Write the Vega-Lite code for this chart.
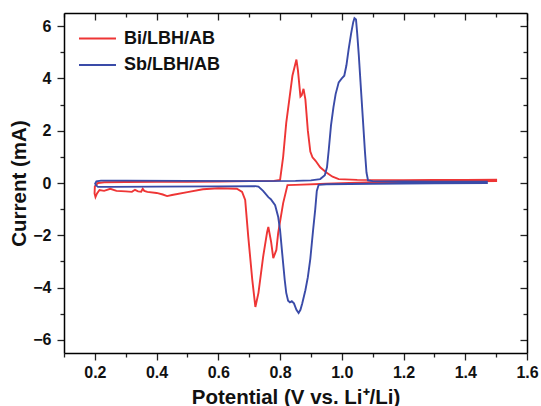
{
  "$schema": "https://vega.github.io/schema/vega-lite/v6.json",
  "width": 463,
  "height": 340,
  "autosize": {"type": "none"},
  "padding": {"left": 64, "top": 13, "right": 14, "bottom": 53},
  "background": "white",
  "config": {
    "view": {"stroke": null},
    "font": "Liberation Sans",
    "axis": {
      "grid": false,
      "domainColor": "#000",
      "domainWidth": 1.5,
      "tickColor": "#222",
      "tickWidth": 1.3,
      "labelFont": "Liberation Sans",
      "labelFontWeight": "bold",
      "labelFontSize": 16,
      "labelColor": "#111",
      "titleFont": "Liberation Sans",
      "titleFontWeight": "bold",
      "titleFontSize": 20.5,
      "titleColor": "#111"
    },
    "legend": {
      "labelFont": "Liberation Sans",
      "labelFontWeight": "bold",
      "labelFontSize": 18,
      "labelColor": "#111"
    }
  },
  "data": {"values": [
    {"s":"Bi/LBH/AB","i":1,"x":0.200,"y":-0.12},
    {"s":"Bi/LBH/AB","i":2,"x":0.210,"y":0.00},
    {"s":"Bi/LBH/AB","i":3,"x":0.230,"y":0.03},
    {"s":"Bi/LBH/AB","i":4,"x":0.300,"y":0.04},
    {"s":"Bi/LBH/AB","i":5,"x":0.400,"y":0.05},
    {"s":"Bi/LBH/AB","i":6,"x":0.500,"y":0.05},
    {"s":"Bi/LBH/AB","i":7,"x":0.600,"y":0.06},
    {"s":"Bi/LBH/AB","i":8,"x":0.700,"y":0.07},
    {"s":"Bi/LBH/AB","i":9,"x":0.780,"y":0.08},
    {"s":"Bi/LBH/AB","i":10,"x":0.800,"y":0.12},
    {"s":"Bi/LBH/AB","i":11,"x":0.810,"y":1.00},
    {"s":"Bi/LBH/AB","i":12,"x":0.820,"y":2.30},
    {"s":"Bi/LBH/AB","i":13,"x":0.830,"y":3.20},
    {"s":"Bi/LBH/AB","i":14,"x":0.840,"y":4.10},
    {"s":"Bi/LBH/AB","i":15,"x":0.853,"y":4.72},
    {"s":"Bi/LBH/AB","i":16,"x":0.858,"y":4.30},
    {"s":"Bi/LBH/AB","i":17,"x":0.866,"y":3.30},
    {"s":"Bi/LBH/AB","i":18,"x":0.870,"y":3.35},
    {"s":"Bi/LBH/AB","i":19,"x":0.876,"y":3.60},
    {"s":"Bi/LBH/AB","i":20,"x":0.882,"y":3.20},
    {"s":"Bi/LBH/AB","i":21,"x":0.890,"y":2.00},
    {"s":"Bi/LBH/AB","i":22,"x":0.898,"y":1.20},
    {"s":"Bi/LBH/AB","i":23,"x":0.905,"y":0.98},
    {"s":"Bi/LBH/AB","i":24,"x":0.915,"y":0.85},
    {"s":"Bi/LBH/AB","i":25,"x":0.930,"y":0.60},
    {"s":"Bi/LBH/AB","i":26,"x":0.950,"y":0.40},
    {"s":"Bi/LBH/AB","i":27,"x":0.970,"y":0.24},
    {"s":"Bi/LBH/AB","i":28,"x":0.990,"y":0.15},
    {"s":"Bi/LBH/AB","i":29,"x":1.050,"y":0.12},
    {"s":"Bi/LBH/AB","i":30,"x":1.200,"y":0.11},
    {"s":"Bi/LBH/AB","i":31,"x":1.300,"y":0.12},
    {"s":"Bi/LBH/AB","i":32,"x":1.400,"y":0.12},
    {"s":"Bi/LBH/AB","i":33,"x":1.500,"y":0.13},
    {"s":"Bi/LBH/AB","i":34,"x":1.500,"y":0.07},
    {"s":"Bi/LBH/AB","i":35,"x":1.300,"y":0.06},
    {"s":"Bi/LBH/AB","i":36,"x":1.100,"y":0.03},
    {"s":"Bi/LBH/AB","i":37,"x":0.950,"y":-0.03},
    {"s":"Bi/LBH/AB","i":38,"x":0.850,"y":-0.07},
    {"s":"Bi/LBH/AB","i":39,"x":0.824,"y":-0.08},
    {"s":"Bi/LBH/AB","i":40,"x":0.810,"y":-0.77},
    {"s":"Bi/LBH/AB","i":41,"x":0.794,"y":-1.90},
    {"s":"Bi/LBH/AB","i":42,"x":0.788,"y":-2.56},
    {"s":"Bi/LBH/AB","i":43,"x":0.778,"y":-2.87},
    {"s":"Bi/LBH/AB","i":44,"x":0.771,"y":-2.25},
    {"s":"Bi/LBH/AB","i":45,"x":0.762,"y":-1.68},
    {"s":"Bi/LBH/AB","i":46,"x":0.758,"y":-1.88},
    {"s":"Bi/LBH/AB","i":47,"x":0.745,"y":-2.83},
    {"s":"Bi/LBH/AB","i":48,"x":0.730,"y":-4.20},
    {"s":"Bi/LBH/AB","i":49,"x":0.720,"y":-4.74},
    {"s":"Bi/LBH/AB","i":50,"x":0.710,"y":-3.70},
    {"s":"Bi/LBH/AB","i":51,"x":0.697,"y":-2.06},
    {"s":"Bi/LBH/AB","i":52,"x":0.687,"y":-0.65},
    {"s":"Bi/LBH/AB","i":53,"x":0.677,"y":-0.34},
    {"s":"Bi/LBH/AB","i":54,"x":0.660,"y":-0.22},
    {"s":"Bi/LBH/AB","i":55,"x":0.600,"y":-0.20},
    {"s":"Bi/LBH/AB","i":56,"x":0.550,"y":-0.24},
    {"s":"Bi/LBH/AB","i":57,"x":0.500,"y":-0.35},
    {"s":"Bi/LBH/AB","i":58,"x":0.450,"y":-0.46},
    {"s":"Bi/LBH/AB","i":59,"x":0.434,"y":-0.50},
    {"s":"Bi/LBH/AB","i":60,"x":0.420,"y":-0.44},
    {"s":"Bi/LBH/AB","i":61,"x":0.400,"y":-0.38},
    {"s":"Bi/LBH/AB","i":62,"x":0.370,"y":-0.34},
    {"s":"Bi/LBH/AB","i":63,"x":0.360,"y":-0.30},
    {"s":"Bi/LBH/AB","i":64,"x":0.355,"y":-0.22},
    {"s":"Bi/LBH/AB","i":65,"x":0.350,"y":-0.33},
    {"s":"Bi/LBH/AB","i":66,"x":0.340,"y":-0.32},
    {"s":"Bi/LBH/AB","i":67,"x":0.330,"y":-0.26},
    {"s":"Bi/LBH/AB","i":68,"x":0.320,"y":-0.34},
    {"s":"Bi/LBH/AB","i":69,"x":0.300,"y":-0.32},
    {"s":"Bi/LBH/AB","i":70,"x":0.270,"y":-0.30},
    {"s":"Bi/LBH/AB","i":71,"x":0.250,"y":-0.22},
    {"s":"Bi/LBH/AB","i":72,"x":0.230,"y":-0.30},
    {"s":"Bi/LBH/AB","i":73,"x":0.215,"y":-0.27},
    {"s":"Bi/LBH/AB","i":74,"x":0.207,"y":-0.40},
    {"s":"Bi/LBH/AB","i":75,"x":0.202,"y":-0.54},
    {"s":"Bi/LBH/AB","i":76,"x":0.199,"y":-0.40},
    {"s":"Bi/LBH/AB","i":77,"x":0.200,"y":-0.12},
    {"s":"Sb/LBH/AB","i":1,"x":0.200,"y":-0.05},
    {"s":"Sb/LBH/AB","i":2,"x":0.205,"y":0.06},
    {"s":"Sb/LBH/AB","i":3,"x":0.220,"y":0.09},
    {"s":"Sb/LBH/AB","i":4,"x":0.300,"y":0.09},
    {"s":"Sb/LBH/AB","i":5,"x":0.500,"y":0.08},
    {"s":"Sb/LBH/AB","i":6,"x":0.700,"y":0.07},
    {"s":"Sb/LBH/AB","i":7,"x":0.850,"y":0.08},
    {"s":"Sb/LBH/AB","i":8,"x":0.900,"y":0.10},
    {"s":"Sb/LBH/AB","i":9,"x":0.930,"y":0.15},
    {"s":"Sb/LBH/AB","i":10,"x":0.945,"y":0.30},
    {"s":"Sb/LBH/AB","i":11,"x":0.952,"y":0.60},
    {"s":"Sb/LBH/AB","i":12,"x":0.958,"y":1.30},
    {"s":"Sb/LBH/AB","i":13,"x":0.965,"y":2.20},
    {"s":"Sb/LBH/AB","i":14,"x":0.973,"y":2.90},
    {"s":"Sb/LBH/AB","i":15,"x":0.980,"y":3.40},
    {"s":"Sb/LBH/AB","i":16,"x":0.990,"y":3.85},
    {"s":"Sb/LBH/AB","i":17,"x":1.000,"y":4.00},
    {"s":"Sb/LBH/AB","i":18,"x":1.008,"y":4.10},
    {"s":"Sb/LBH/AB","i":19,"x":1.015,"y":4.50},
    {"s":"Sb/LBH/AB","i":20,"x":1.022,"y":5.10},
    {"s":"Sb/LBH/AB","i":21,"x":1.030,"y":5.70},
    {"s":"Sb/LBH/AB","i":22,"x":1.037,"y":6.15},
    {"s":"Sb/LBH/AB","i":23,"x":1.041,"y":6.30},
    {"s":"Sb/LBH/AB","i":24,"x":1.046,"y":6.25},
    {"s":"Sb/LBH/AB","i":25,"x":1.050,"y":5.70},
    {"s":"Sb/LBH/AB","i":26,"x":1.055,"y":4.90},
    {"s":"Sb/LBH/AB","i":27,"x":1.062,"y":3.60},
    {"s":"Sb/LBH/AB","i":28,"x":1.068,"y":2.50},
    {"s":"Sb/LBH/AB","i":29,"x":1.075,"y":1.20},
    {"s":"Sb/LBH/AB","i":30,"x":1.080,"y":0.40},
    {"s":"Sb/LBH/AB","i":31,"x":1.085,"y":0.10},
    {"s":"Sb/LBH/AB","i":32,"x":1.100,"y":0.07},
    {"s":"Sb/LBH/AB","i":33,"x":1.200,"y":0.06},
    {"s":"Sb/LBH/AB","i":34,"x":1.300,"y":0.05},
    {"s":"Sb/LBH/AB","i":35,"x":1.400,"y":0.05},
    {"s":"Sb/LBH/AB","i":36,"x":1.470,"y":0.05},
    {"s":"Sb/LBH/AB","i":37,"x":1.470,"y":0.00},
    {"s":"Sb/LBH/AB","i":38,"x":1.300,"y":-0.01},
    {"s":"Sb/LBH/AB","i":39,"x":1.100,"y":-0.03},
    {"s":"Sb/LBH/AB","i":40,"x":0.950,"y":-0.05},
    {"s":"Sb/LBH/AB","i":41,"x":0.925,"y":-0.07},
    {"s":"Sb/LBH/AB","i":42,"x":0.919,"y":-0.30},
    {"s":"Sb/LBH/AB","i":43,"x":0.914,"y":-1.00},
    {"s":"Sb/LBH/AB","i":44,"x":0.907,"y":-1.80},
    {"s":"Sb/LBH/AB","i":45,"x":0.898,"y":-2.90},
    {"s":"Sb/LBH/AB","i":46,"x":0.890,"y":-3.60},
    {"s":"Sb/LBH/AB","i":47,"x":0.882,"y":-4.10},
    {"s":"Sb/LBH/AB","i":48,"x":0.872,"y":-4.60},
    {"s":"Sb/LBH/AB","i":49,"x":0.866,"y":-4.85},
    {"s":"Sb/LBH/AB","i":50,"x":0.860,"y":-4.97},
    {"s":"Sb/LBH/AB","i":51,"x":0.853,"y":-4.85},
    {"s":"Sb/LBH/AB","i":52,"x":0.845,"y":-4.60},
    {"s":"Sb/LBH/AB","i":53,"x":0.838,"y":-4.52},
    {"s":"Sb/LBH/AB","i":54,"x":0.832,"y":-4.56},
    {"s":"Sb/LBH/AB","i":55,"x":0.826,"y":-4.50},
    {"s":"Sb/LBH/AB","i":56,"x":0.820,"y":-4.20},
    {"s":"Sb/LBH/AB","i":57,"x":0.815,"y":-3.70},
    {"s":"Sb/LBH/AB","i":58,"x":0.807,"y":-2.70},
    {"s":"Sb/LBH/AB","i":59,"x":0.800,"y":-1.80},
    {"s":"Sb/LBH/AB","i":60,"x":0.794,"y":-1.30},
    {"s":"Sb/LBH/AB","i":61,"x":0.784,"y":-0.85},
    {"s":"Sb/LBH/AB","i":62,"x":0.770,"y":-0.62},
    {"s":"Sb/LBH/AB","i":63,"x":0.762,"y":-0.54},
    {"s":"Sb/LBH/AB","i":64,"x":0.745,"y":-0.30},
    {"s":"Sb/LBH/AB","i":65,"x":0.730,"y":-0.14},
    {"s":"Sb/LBH/AB","i":66,"x":0.720,"y":-0.12},
    {"s":"Sb/LBH/AB","i":67,"x":0.600,"y":-0.13},
    {"s":"Sb/LBH/AB","i":68,"x":0.400,"y":-0.14},
    {"s":"Sb/LBH/AB","i":69,"x":0.250,"y":-0.15},
    {"s":"Sb/LBH/AB","i":70,"x":0.210,"y":-0.15},
    {"s":"Sb/LBH/AB","i":71,"x":0.200,"y":-0.05}
  ]},
  "layer": [
    {
      "mark": {"type": "line", "strokeWidth": 1.9, "interpolate": "linear"},
      "encoding": {
        "x": {
          "field": "x", "type": "quantitative",
          "scale": {"domain": [0.1, 1.6], "nice": false, "zero": false},
          "axis": {
            "orient": "bottom",
            "title": "Potential (V vs. Li⁺/Li)",
            "values": [0.1,0.2,0.3,0.4,0.5,0.6,0.7,0.8,0.9,1.0,1.1,1.2,1.3,1.4,1.5,1.6],
            "labelExpr": "abs(datum.value*5 - round(datum.value*5)) < 0.001 ? format(datum.value, '.1f') : ''",
            "tickSize": {"condition": {"test": "abs(datum.value*5 - round(datum.value*5)) < 0.001", "value": 7}, "value": 4},
            "labelPadding": 4,
            "labelFlush": false,
            "titleY": 50,
            "titleBaseline": "alphabetic"
          }
        },
        "y": {
          "field": "y", "type": "quantitative",
          "scale": {"domain": [-6.5, 6.5], "nice": false, "zero": false},
          "axis": {
            "orient": "left",
            "title": "Current (mA)",
            "values": [-6,-5,-4,-3,-2,-1,0,1,2,3,4,5,6],
            "labelExpr": "datum.value % 2 == 0 ? format(datum.value, 'd') : ''",
            "tickSize": {"condition": {"test": "datum.value % 2 == 0", "value": 7}, "value": 4},
            "labelPadding": 6,
            "labelFlush": false,
            "titleX": -39,
            "titleBaseline": "alphabetic"
          }
        },
        "color": {
          "field": "s", "type": "nominal",
          "scale": {"domain": ["Bi/LBH/AB", "Sb/LBH/AB"], "range": ["#EE3535", "#3A4BA8"]},
          "legend": {
            "title": null,
            "orient": "none",
            "legendX": 23,
            "legendY": 15,
            "padding": 0,
            "symbolType": "M-2,0H2",
            "symbolSize": 342,
            "symbolStrokeWidth": 2,
            "labelOffset": 16,
            "rowPadding": 6.5
          }
        },
        "order": {"field": "i", "type": "quantitative"}
      }
    },
    {
      "mark": {"type": "line", "opacity": 0},
      "encoding": {
        "x": {
          "field": "x", "type": "quantitative",
          "axis": {
            "orient": "top",
            "title": null,
            "labels": false,
            "values": [0.1,0.2,0.3,0.4,0.5,0.6,0.7,0.8,0.9,1.0,1.1,1.2,1.3,1.4,1.5,1.6],
            "tickSize": {"condition": {"test": "abs(datum.value*5 - round(datum.value*5)) < 0.001", "value": -7}, "value": -4}
          }
        },
        "y": {
          "field": "y", "type": "quantitative",
          "axis": {
            "orient": "right",
            "title": null,
            "labels": false,
            "values": [-6,-5,-4,-3,-2,-1,0,1,2,3,4,5,6],
            "tickSize": {"condition": {"test": "datum.value % 2 == 0", "value": -7}, "value": -4}
          }
        },
        "detail": {"field": "s", "type": "nominal"},
        "order": {"field": "i", "type": "quantitative"}
      }
    }
  ],
  "resolve": {"axis": {"x": "independent", "y": "independent"}}
}
